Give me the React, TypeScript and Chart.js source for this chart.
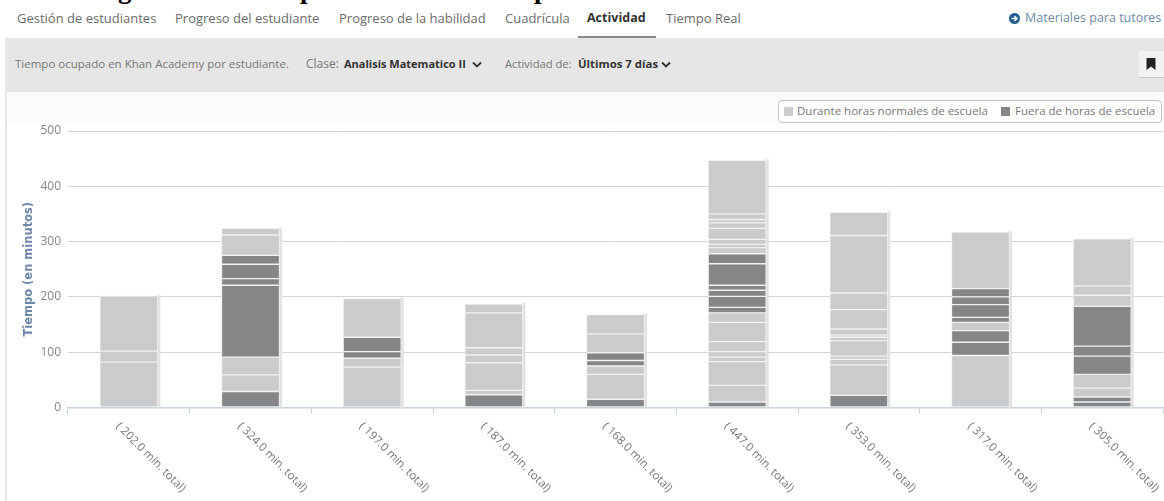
import React, { useEffect, useRef } from "react";
import { Chart, registerables } from "chart.js";

Chart.register(...registerables);

const LIGHT = "#cbcbcb";
const DARK = "#868686";

const totalLabels = [
  "( 202.0 min. total)",
  "( 324.0 min. total)",
  "( 197.0 min. total)",
  "( 187.0 min. total)",
  "( 168.0 min. total)",
  "( 447.0 min. total)",
  "( 353.0 min. total)",
  "( 317.0 min. total)",
  "( 305.0 min. total)",
];

// Minutes per session for each student, bottom to top; the matching
// "kinds" array says whether the session fell inside school hours (L) or outside (D).
const student1 = [82, 20, 100];
const kinds1 = "LLL";
const student2 = [29, 30, 32, 130, 12, 26, 16, 37, 12];
const kinds2 = "DLLDDDDLL";
const student3 = [73, 16, 12, 26, 70];
const kinds3 = "LLDDL";
const student4 = [23, 8, 50, 14, 13, 63, 16];
const kinds4 = "DLLLLLL";
const student5 = [15, 45, 15, 10, 14, 34, 35];
const kinds5 = "DLLDDLL";
const student6 = [10, 30, 43, 8, 10, 18, 35, 17, 10, 20, 11, 9, 39, 18, 11, 6, 9, 20, 10, 6, 10, 97];
const kinds6 = "DLLLLLLLDDDDDDLLLLLLLL";
const student7 = [22, 55, 10, 6, 28, 6, 4, 11, 35, 30, 104, 42];
const kinds7 = "DLLLLLLLLLLL";
const student8 = [94, 24, 21, 15, 9, 23, 14, 15, 102];
const kinds8 = "LDDLDDDDL";
const student9 = [10, 9, 16, 25, 33, 18, 72, 20, 17, 85];
const kinds9 = "DDLLDDDLLL";

const sessions = [student1, student2, student3, student4, student5, student6, student7, student8, student9];
const kinds = [kinds1, kinds2, kinds3, kinds4, kinds5, kinds6, kinds7, kinds8, kinds9];

const yTicks = [0, 100, 200, 300, 400, 500];

const tabs: [string, number, boolean][] = [
  ["Gestión de estudiantes", 17, false],
  ["Progreso del estudiante", 175, false],
  ["Progreso de la habilidad", 339, false],
  ["Cuadrícula", 505, false],
  ["Actividad", 587, true],
  ["Tiempo Real", 666, false],
];

const FONT = '"Open Sans", sans-serif';

const maxSessions = Math.max(...sessions.map((s) => s.length));
const datasets = Array.from({ length: maxSessions }, (_, i) => ({
  data: sessions.map((s) => (i < s.length ? s[i] : null)),
  backgroundColor: kinds.map((k) => (k[i] === "D" ? DARK : LIGHT)),
  borderColor: "#f1f1f1",
  borderWidth: 1,
  borderSkipped: false as const,
  barThickness: 58,
  stack: "time",
}));

// Pale strip down the right side of each stack, behind the bars.
const barShadow = {
  id: "barShadow",
  beforeDatasetsDraw(chart: any) {
    const { ctx, scales } = chart;
    const bars = chart.getDatasetMeta(0).data;
    ctx.save();
    ctx.fillStyle = "#e2e2e2";
    sessions.forEach((segments, i) => {
      const total = segments.reduce((sum, v) => sum + v, 0);
      const top = scales.y.getPixelForValue(total);
      const right = bars[i].x + bars[i].width / 2;
      ctx.fillRect(right - 1, top - 1, 3.5, scales.y.bottom - top + 1);
    });
    ctx.restore();
  },
};

// Category labels hang from just under the axis and run down to the right.
const slantedLabels = {
  id: "slantedLabels",
  afterDraw(chart: any) {
    const { ctx, scales } = chart;
    ctx.save();
    ctx.font = `11.5px ${FONT}`;
    ctx.fillStyle = "#777777";
    ctx.textAlign = "left";
    ctx.textBaseline = "middle";
    chart.data.labels.forEach((label: string, i: number) => {
      ctx.save();
      ctx.translate(scales.x.getPixelForTick(i) - 11, scales.y.bottom + 17);
      ctx.rotate(Math.PI / 4);
      ctx.fillText(label, 0, 0);
      ctx.restore();
    });
    ctx.restore();
  },
};

function Label(props: { x: number; y: number; color?: string; bold?: boolean; size?: number; children: React.ReactNode }) {
  return (
    <span
      style={{
        position: "absolute",
        left: props.x,
        top: props.y,
        color: props.color ?? "#777777",
        fontWeight: props.bold ? 700 : 400,
        fontSize: props.size ?? 13,
        fontFamily: FONT,
        lineHeight: "14px",
        whiteSpace: "nowrap",
      }}
    >
      {props.children}
    </span>
  );
}

function Chevron({ x, y }: { x: number; y: number }) {
  return (
    <svg style={{ position: "absolute", left: x, top: y }} width="10" height="7" viewBox="0 0 10 7">
      <path d="M1 1.5 L5 5.5 L9 1.5" fill="none" stroke="#333" strokeWidth="1.8" />
    </svg>
  );
}

function Swatch({ x, color }: { x: number; color: string }) {
  return <div style={{ position: "absolute", left: x, top: 107, width: 9, height: 9, background: color }} />;
}

export default function App() {
  const canvasRef = useRef<HTMLCanvasElement | null>(null);

  useEffect(() => {
    const chart = new Chart(canvasRef.current!, {
      type: "bar",
      data: { labels: totalLabels, datasets },
      plugins: [barShadow, slantedLabels],
      options: {
        animation: false,
        responsive: false,
        layout: { padding: { top: 38, right: 1, left: 0, bottom: 0 } },
        plugins: { legend: { display: false }, tooltip: { enabled: false } },
        scales: {
          x: {
            stacked: true,
            afterFit: (s: any) => {
              s.height = 93.5;
            },
            grid: { drawOnChartArea: false, color: "#c6d4e3", tickLength: 6, offset: true },
            border: { color: "#c6d4e3", width: 1.5 },
            ticks: { display: false },
          },
          y: {
            stacked: true,
            min: 0,
            max: 500,
            afterFit: (s: any) => {
              s.width = 68;
            },
            afterBuildTicks: (s: any) => {
              s.ticks = yTicks.map((value) => ({ value }));
            },
            grid: { color: "#d4d4d4", lineWidth: 1, drawTicks: false },
            border: { display: false },
            ticks: { color: "#868686", padding: 7, font: { family: FONT, size: 12 } },
            title: {
              display: true,
              text: "Tiempo (en minutos)",
              color: "#6d87a8",
              font: { family: '"DejaVu Sans", sans-serif', size: 11.5, weight: "bold" },
              padding: { top: 22, bottom: 3 },
            },
          },
        },
      },
    });
    return () => chart.destroy();
  }, []);

  return (
    <div style={{ position: "absolute", left: 0, top: 0, width: 1164, height: 501, overflow: "hidden", background: "#fff" }}>
      {/* Lower edge of the heading line above the tabs */}
      {[["g", 118], ["p", 300], ["p", 534]].map(([ch, x], i) => (
        <span
          key={i}
          style={{
            position: "absolute",
            left: x as number,
            top: -26,
            font: 'bold 27px "Liberation Serif", serif',
            lineHeight: "30px",
            color: "#000",
          }}
        >
          {ch}
        </span>
      ))}

      {tabs.map(([text, x, active]) => (
        <Label key={text} x={x} y={11} bold={active} size={active ? 12.5 : 13} color={active ? "#333333" : "#6b6b6b"}>
          {text}
        </Label>
      ))}
      <div style={{ position: "absolute", left: 578, top: 36, width: 78, height: 2, background: "#8a8a8a" }} />

      <svg style={{ position: "absolute", left: 1009, top: 13 }} width="11" height="11" viewBox="0 0 11 11">
        <circle cx="5.5" cy="5.5" r="5.5" fill="#1f5f8f" />
        <path d="M2.5 5.5 H7.5 M5.5 3 L8 5.5 L5.5 8" fill="none" stroke="#fff" strokeWidth="1.5" />
      </svg>
      <Label x={1025} y={11} size={12.5} color="#6f8bab">Materiales para tutores</Label>

      {/* Filter bar */}
      <div style={{ position: "absolute", left: 5, top: 38, width: 1159, height: 54, background: "#e6e6e6" }} />
      <Label x={15} y={57} size={11.5}>Tiempo ocupado en Khan Academy por estudiante.</Label>
      <Label x={306} y={57} size={12}>Clase:</Label>
      <Label x={344} y={57} bold color="#333333" size={11}>Analisis Matematico II</Label>
      <Chevron x={472} y={61} />
      <Label x={505} y={57} size={11.2}>Actividad de:</Label>
      <Label x={578} y={57} bold color="#333333" size={11.4}>Últimos 7 días</Label>
      <Chevron x={661} y={61} />
      <div style={{ position: "absolute", left: 1139, top: 51, width: 25, height: 26, background: "#f2f2f2", borderBottom: "1px solid #c8c8c8" }}>
        <svg style={{ position: "absolute", left: 7, top: 7 }} width="10" height="12" viewBox="0 0 10 12">
          <path d="M0.5 0 H9.5 V12 L5 8.5 L0.5 12 Z" fill="#222" />
        </svg>
      </div>

      <div style={{ position: "absolute", left: 5, top: 38, width: 2, height: 463, background: "#e6e6e6" }} />
      <div style={{ position: "absolute", left: 7, top: 92, width: 1157, height: 30, background: "#fbfbfb" }} />

      <canvas
        ref={canvasRef}
        width={1164}
        height={408}
        style={{ position: "absolute", left: 0, top: 93, width: 1164, height: 408 }}
      />

      {/* Legend */}
      <div
        style={{
          position: "absolute",
          left: 778,
          top: 100,
          width: 382,
          height: 21,
          border: "1px solid #c4c4c4",
          borderRadius: 4,
          background: "#fff",
        }}
      />
      <Swatch x={784} color={LIGHT} />
      <Label x={797} y={104} size={11.5} color="#787878">Durante horas normales de escuela</Label>
      <Swatch x={1001} color={DARK} />
      <Label x={1015} y={104} size={11.5} color="#787878">Fuera de horas de escuela</Label>
    </div>
  );
}
